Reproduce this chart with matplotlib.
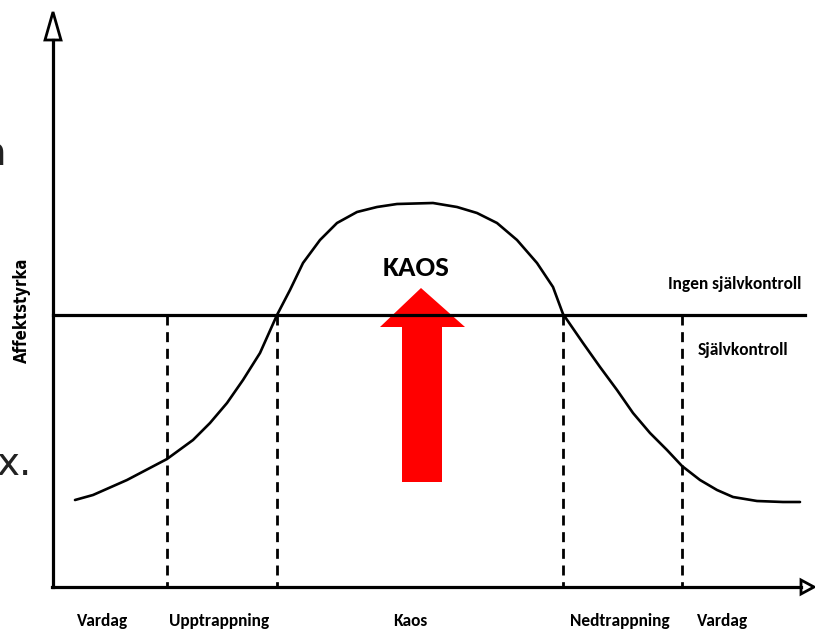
import matplotlib.pyplot as plt
from matplotlib.patches import Polygon

# Kurvan (x, y i bildpunkter, y nedåt)
curve_x = [75, 93, 127, 167, 193, 210, 227, 243, 260, 277, 290, 303, 320, 337, 357, 377, 397, 433,
           457, 477, 497, 517, 537, 553, 563, 583, 600, 617, 633, 650, 667, 682, 700, 717, 733, 757, 783, 800]
curve_y = [500, 495, 480, 459, 440, 423, 403, 380, 353, 315, 290, 263, 240, 223, 212, 207, 204, 203,
           207, 213, 223, 240, 263, 287, 314, 343, 367, 390, 413, 433, 450, 466, 480, 490, 497, 501, 502, 502]

axis_y = 587
threshold_y = 315
phase_x = [167, 277, 563, 682]
phase_labels = ['Vardag', 'Upptrappning', 'Kaos', 'Nedtrappning', 'Vardag']
phase_label_x = [103, 219, 410, 620, 723]

font = 'Carlito'

fig = plt.figure(figsize=(8.15, 6.33), dpi=100)
ax = fig.add_axes([0, 0, 1, 1])
ax.set_xlim(0, 815)
ax.set_ylim(633, 0)
ax.axis('off')

# Axlar med öppna pilspetsar
ax.plot([53, 53], [axis_y, 40], color='black', lw=2.3)
ax.plot([52, 801], [axis_y, axis_y], color='black', lw=2.3)
ax.add_patch(Polygon([[45, 40], [61, 40], [53, 12]], closed=True, fc='white', ec='black', lw=2))
ax.add_patch(Polygon([[801, 580], [801, 594], [814, 587]], closed=True, fc='white', ec='black', lw=2))

# Gränslinje och faser
ax.plot([53, 805], [threshold_y, threshold_y], color='black', lw=2.3)
for x in phase_x:
    ax.plot([x, x], [threshold_y, axis_y], color='black', lw=2, linestyle=(0, (3.6, 2.4)))

ax.plot(curve_x, curve_y, color='black', lw=1.9, solid_capstyle='round', solid_joinstyle='round')

# Röd pil
ax.add_patch(Polygon([[402, 482], [442, 482], [442, 327], [465, 327], [421, 288], [380, 327], [402, 327]],
                     closed=True, fc='#ff0000', ec='none'))

ax.text(416, 268, 'KAOS', family=font, weight='bold', fontsize=21, ha='center', va='center')
ax.text(735, 284, 'Ingen självkontroll', family=font, weight='bold', fontsize=12.5, ha='center', va='center')
ax.text(743, 350, 'Självkontroll', family=font, weight='bold', fontsize=12.5, ha='center', va='center')
for lx, lab in zip(phase_label_x, phase_labels):
    ax.text(lx, 621, lab, family=font, weight='bold', fontsize=12.5, ha='center', va='center')
ax.text(22, 310, 'Affektstyrka', family='DejaVu Sans', stretch='condensed', weight='bold', fontsize=12,
        rotation=90, ha='center', va='center')

# Avklippt text till vänster
ax.text(6, 165, 'n', fontsize=28, color='#222222', ha='right', va='baseline')
ax.text(-3, 475, 'x.', fontsize=28, color='#222222', ha='left', va='baseline')

fig.savefig('out.png', dpi=100)
